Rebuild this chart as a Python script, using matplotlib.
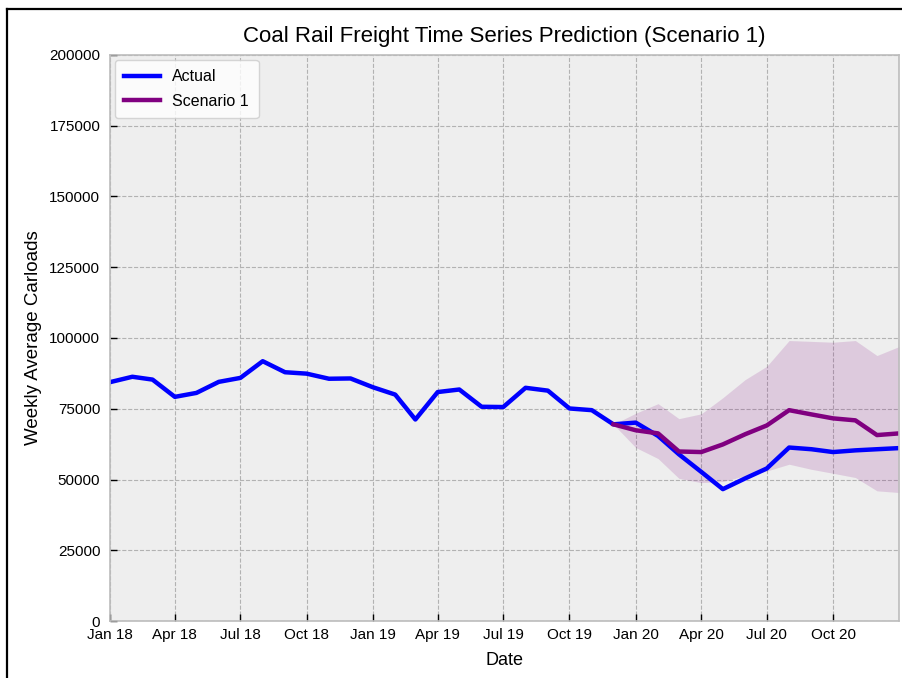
import matplotlib

matplotlib.use("Agg")
import matplotlib.dates as mdates
import matplotlib.pyplot as plt
import pandas as pd
from matplotlib.lines import Line2D

# monthly values
months = pd.date_range("2018-01-01", "2021-01-01", freq="MS")
actual = [
    84400, 86300, 85300, 79200, 80600, 84500, 85900, 91800, 87900, 87400, 85600, 85700,
    82600, 80000, 71200, 80900, 81800, 75700, 75600, 82400, 81400, 75100, 74500, 69500,
    70100, 65400, 58900, 52700, 46600, 50400, 53900, 61300, 60700, 59700, 60300, 60700,
    61100,
]

scen_months = pd.date_range("2019-12-01", "2021-01-01", freq="MS")
scenario = [69500, 67400, 66300, 59900, 59700, 62400, 66000, 69100, 74500, 73000, 71600, 70900, 65700, 66300]
upper = [69500, 73400, 76800, 71500, 73200, 78900, 85300, 90000, 99100, 98800, 98500, 99100, 93800, 97000]
lower = [69500, 61300, 57400, 50400, 48900, 49300, 51300, 53000, 55400, 53600, 52200, 50700, 46000, 45400]

tick_dates = pd.date_range("2018-01-01", "2020-10-01", freq="QS")

plt.rcParams["font.family"] = ["Liberation Sans", "DejaVu Sans"]

fig = plt.figure(figsize=(9.02, 6.78), dpi=100)
ax = fig.add_axes([0.122, 0.084, 0.875, 0.835])
ax.set_facecolor("#eeeeee")

ax.fill_between(scen_months, lower, upper, color="purple", alpha=0.15, linewidth=0)
ax.plot(months, actual, color="blue", linewidth=3.2, label="Actual")
ax.plot(scen_months, scenario, color="purple", linewidth=3.2, label="Scenario 1")

ax.set_xlim(months[0], months[-1])
ax.set_ylim(0, 200000)
ax.set_yticks(range(0, 200001, 25000))
ax.set_xticks(tick_dates)
ax.xaxis.set_major_formatter(mdates.DateFormatter("%b %y"))

ax.grid(True, color="#b2b2b2", linestyle="--", linewidth=0.8)
ax.set_axisbelow(True)
for s in ax.spines.values():
    s.set_color("#bcbcbc")
    s.set_linewidth(1.2)
ax.tick_params(direction="in", length=5, width=1, colors="black", labelsize=11)
ax.tick_params(axis="y", pad=7)
ax.tick_params(axis="x", pad=5)

ax.set_xlabel("Date", fontsize=13, labelpad=7)
ax.set_ylabel("Weekly Average Carloads", fontsize=13.5, labelpad=5)
ax.set_title("Coal Rail Freight Time Series Prediction (Scenario 1)", fontsize=16, pad=9)
ax.legend(loc="upper left", fontsize=11.5, framealpha=0.8, edgecolor="#cccccc",
          fancybox=True, handlelength=2.2, labelspacing=0.6, borderpad=0.6,
          borderaxespad=0.3)

# screenshot frame on left and top
fig.add_artist(Line2D([0.008, 0.008], [0, 0.986], color="black", linewidth=1.6))
fig.add_artist(Line2D([0.008, 1.0], [0.986, 0.986], color="black", linewidth=1.6))

fig.savefig("out.png", dpi=100)
plt.close(fig)
